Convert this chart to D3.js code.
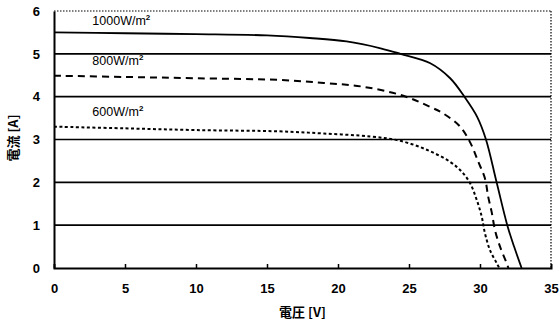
<!DOCTYPE html>
<html><head><meta charset="utf-8">
<script src="https://cdn.jsdelivr.net/npm/d3@7/dist/d3.min.js"></script>
<style>body{margin:0;background:#fff}svg{display:block}</style>
</head><body><svg id="c" width="559" height="325"></svg>
<script>
const xTicks = [0,5,10,15,20,25,30,35];
const yTicks = [0,1,2,3,4,5,6];
const seriesNames = ["1000W/m²","800W/m²","600W/m²"];
const s1000 = [[0,5.5],[5,5.48],[10,5.46],[15,5.43],[18,5.37],[20.6,5.29],[23,5.13],[24.4,5.0],[26.5,4.78],[27.9,4.43],[28.9,4.0],[29.8,3.53],[30.42,3.0],[31.17,2.0],[31.92,1.0],[32.4,0.5],[32.93,0]];
const s800 = [[0,4.49],[5,4.46],[10,4.43],[15.9,4.39],[19,4.32],[21.8,4.23],[24.6,4.02],[26.5,3.76],[27.4,3.61],[28.6,3.30],[29.34,2.91],[29.88,2.48],[30.35,2.09],[30.58,1.66],[30.82,1.31],[31.06,0.88],[31.41,0.5],[31.88,0.11],[32.0,0]];
const s600 = [[0,3.3],[5,3.26],[10,3.22],[15.9,3.19],[19,3.14],[22.3,3.07],[24.37,2.97],[26.25,2.76],[27.89,2.48],[28.71,2.25],[29.3,1.98],[29.77,1.59],[30.12,1.20],[30.35,0.81],[30.7,0.42],[31.18,0.11],[31.36,0]];

const svg = d3.select("#c");
const x = d3.scaleLinear().domain([0,35]).range([54,551]);
const y = d3.scaleLinear().domain([0,6]).range([268,11]);
const font = "Liberation Sans, Arial, sans-serif";

// gridlines 1..5 solid
svg.append("g").selectAll("line").data(yTicks.filter(d=>d>0&&d<6)).join("line")
  .attr("x1",x(0)).attr("x2",x(35)).attr("y1",d=>y(d)).attr("y2",d=>y(d))
  .attr("stroke","#000").attr("stroke-width",1.6);
// top & right dotted border
svg.append("line").attr("x1",x(0)).attr("x2",x(35)).attr("y1",y(6)).attr("y2",y(6))
  .attr("stroke","#000").attr("stroke-width",1.2).attr("stroke-dasharray","1.5,1.5");
svg.append("line").attr("x1",x(35)).attr("x2",x(35)).attr("y1",y(6)).attr("y2",y(0))
  .attr("stroke","#000").attr("stroke-width",1.2).attr("stroke-dasharray","1.5,1.5");

// axes
const xAxis = d3.axisBottom(x).tickValues(xTicks).tickFormat(d3.format("d")).tickSize(-4).tickPadding(16);
const gx = svg.append("g").attr("transform",`translate(0,${y(0)})`).call(xAxis);
const yAxis = d3.axisLeft(y).tickValues(yTicks).tickFormat(d3.format("d")).tickSize(0).tickPadding(14);
const gy = svg.append("g").attr("transform",`translate(${x(0)},0)`).call(yAxis);
[gx,gy].forEach(g=>{
  g.select(".domain").attr("stroke","#000").attr("stroke-width",2);
  g.selectAll(".tick line").attr("stroke","#000").attr("stroke-width",1.5);
  g.selectAll("text").attr("font-family",font).attr("font-weight","bold").attr("font-size",13).attr("fill","#000");
});
gx.selectAll(".tick").filter(d=>d===0||d===35).select("line").remove();

// curves
const line = d3.line().x(d=>x(d[0])).y(d=>y(d[1])).curve(d3.curveCatmullRom.alpha(0.5));
svg.append("path").attr("d",line(s1000)).attr("fill","none").attr("stroke","#000").attr("stroke-width",1.8);
svg.append("path").attr("d",line(s800)).attr("fill","none").attr("stroke","#000").attr("stroke-width",2).attr("stroke-dasharray","7,5");
svg.append("path").attr("d",line(s600)).attr("fill","none").attr("stroke","#000").attr("stroke-width",2).attr("stroke-dasharray","3,2.5");

// series labels
const labelPos = [5.68, 4.74, 3.56];
seriesNames.forEach((n,i)=>{
  const t = svg.append("text").attr("x",x(2.7)).attr("y",y(labelPos[i]))
    .attr("font-family",font).attr("font-size",12.5).attr("fill","#000");
  const base = n.replace("²","");
  t.append("tspan").text(base);
  t.append("tspan").attr("dy",-5).attr("font-size",8).attr("font-weight","bold").text("2");
});

// axis titles
svg.append("text").attr("x",x(17.5)).attr("y",317).attr("text-anchor","middle")
  .attr("font-family","Noto Sans CJK JP, sans-serif").attr("font-weight","bold").attr("font-size",13).text("電圧 [V]");
svg.append("text").attr("transform",`translate(18,${138}) rotate(-90)`).attr("text-anchor","middle")
  .attr("font-family","Noto Sans CJK JP, sans-serif").attr("font-weight","bold").attr("font-size",13).text("電流 [A]");
</script></body></html>
